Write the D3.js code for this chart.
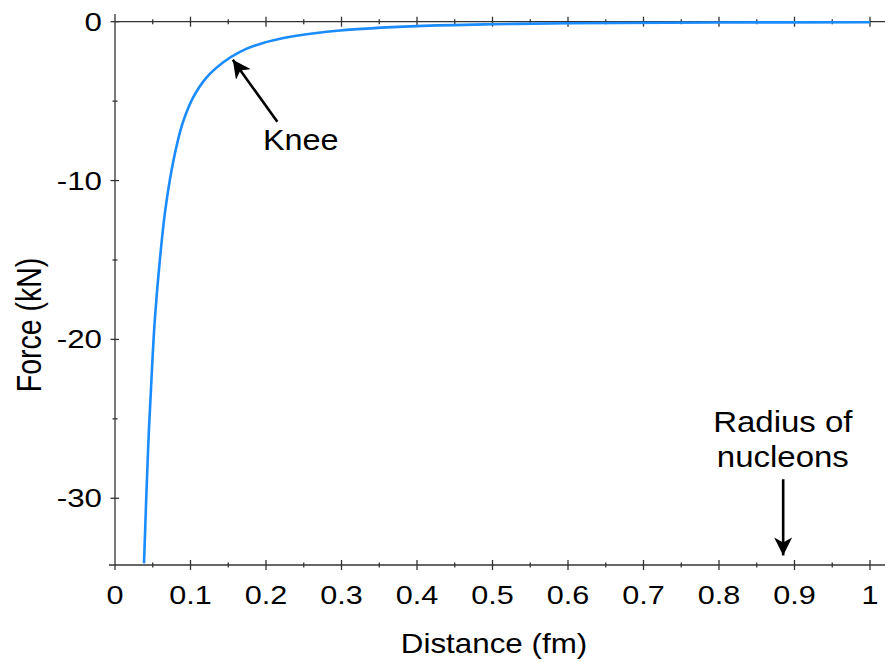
<!DOCTYPE html>
<html>
<head>
<meta charset="utf-8">
<script src="https://cdn.jsdelivr.net/npm/d3@7"></script>
<style>
  html, body { margin: 0; padding: 0; background: #fff; }
  text { font-family: 'Liberation Sans', Arial, sans-serif; fill: #000; }
</style>
</head>
<body>
<div id="chart"></div>
<script>
// values
const distance = [0.0384, 0.0441, 0.0499, 0.053, 0.0596, 0.0662, 0.0751, 0.0839, 0.0905,
  0.1037, 0.1214, 0.1435, 0.1656, 0.192, 0.236, 0.298, 0.4, 0.5, 0.6, 0.8, 1.0];
const force = [-34.1, -26.6, -21.0, -18.6, -14.9, -12.0, -9.3, -7.35, -6.25,
  -4.75, -3.5, -2.55, -1.9, -1.4, -0.92, -0.55, -0.28, -0.16, -0.1, -0.05, -0.03];

const xTicks = [0, 0.1, 0.2, 0.3, 0.4, 0.5, 0.6, 0.7, 0.8, 0.9, 1];
const xMinor = [0.05, 0.15, 0.25, 0.35, 0.45, 0.55, 0.65, 0.75, 0.85, 0.95];
const yTicks = [0, -10, -20, -30];
const yMinor = [-5, -15, -25];

// annotations, in data units
const knee = { tip: [0.156, -2.4], tail: [0.215, -6.3], label: [0.246, -8.1], text: 'Knee' };
const radius = { tip: [0.885, -33.6], tail: [0.885, -28.8], lines: ['Radius of', 'nucleons'], labelY: [-25.8, -28.0] };

const makePlot = () => {
  const width = 885;
  const height = 662;

  const svg = d3.select('#chart').append('svg')
    .attr('width', width)
    .attr('height', height)
    .style('display', 'block');

  svg.append('rect').attr('width', width).attr('height', height).attr('fill', '#fff');

  const x = d3.scaleLinear().domain([0, 1]).range([115, 870]);
  const y = d3.scaleLinear().domain([-34.2, 0]).range([565, 21.7]);

  const axisColor = '#333';
  const axes = svg.append('g').attr('stroke', axisColor).attr('stroke-width', 1.3);

  // bottom axis
  axes.append('line').attr('x1', 109).attr('x2', width).attr('y1', y(-34.2)).attr('y2', y(-34.2));
  // zero line along the top
  axes.append('line').attr('x1', x(0)).attr('x2', width).attr('y1', y(0)).attr('y2', y(0));
  // vertical axis
  axes.append('line').attr('x1', x(0)).attr('x2', x(0)).attr('y1', 14).attr('y2', 570);

  [y(-34.2), y(0)].forEach((yy) => {
    axes.selectAll(null).data(xTicks.slice(1)).enter().append('line')
      .attr('x1', (d) => x(d)).attr('x2', (d) => x(d))
      .attr('y1', yy - 5).attr('y2', yy + 5);
    axes.selectAll(null).data(xMinor).enter().append('line')
      .attr('x1', (d) => x(d)).attr('x2', (d) => x(d))
      .attr('y1', yy - 2.5).attr('y2', yy + 2.5);
  });

  axes.selectAll(null).data(yTicks).enter().append('line')
    .attr('x1', x(0) - 4.5).attr('x2', x(0) + 4)
    .attr('y1', (d) => y(d)).attr('y2', (d) => y(d));
  axes.selectAll(null).data(yMinor).enter().append('line')
    .attr('x1', x(0) - 2.5).attr('x2', x(0) + 2.5)
    .attr('y1', (d) => y(d)).attr('y2', (d) => y(d));

  // tick labels
  svg.selectAll(null).data(xTicks).enter().append('text')
    .attr('transform', (d) => `translate(${x(d)},604) scale(1.2,1)`)
    .attr('text-anchor', 'middle')
    .style('font-size', '25.5px')
    .text((d) => d3.format('')(d));

  svg.selectAll(null).data(yTicks).enter().append('text')
    .attr('transform', (d) => `translate(102,${y(d) + 9}) scale(1.25,1)`)
    .attr('text-anchor', 'end')
    .style('font-size', '25px')
    .text((d) => d);

  // axis titles
  svg.append('text')
    .attr('transform', 'translate(494,653) scale(1.12,1)')
    .attr('text-anchor', 'middle')
    .style('font-size', '28px')
    .text('Distance (fm)');

  svg.append('text')
    .attr('transform', 'translate(41,325) rotate(-90) scale(1,1.2)')
    .attr('text-anchor', 'middle')
    .style('font-size', '28.5px')
    .text('Force (kN)');

  // curve
  const line = d3.line()
    .x((d, i) => x(distance[i]))
    .y((d) => y(d))
    .curve(d3.curveCatmullRom.alpha(0.5));

  svg.append('path')
    .datum(force)
    .attr('d', line)
    .attr('fill', 'none')
    .attr('stroke', '#1a8cff')
    .attr('stroke-width', 2.6);

  // arrows
  const defs = svg.append('defs');
  defs.append('marker')
    .attr('id', 'head')
    .attr('viewBox', '0 0 18 18')
    .attr('refX', 18)
    .attr('refY', 9)
    .attr('markerWidth', 18)
    .attr('markerHeight', 18)
    .attr('markerUnits', 'userSpaceOnUse')
    .attr('orient', 'auto')
    .append('path')
    .attr('d', 'M0,0 L18,9 L0,18 L5,9 Z')
    .attr('fill', '#000');

  const arrows = svg.append('g').attr('stroke', '#000').attr('stroke-width', 2.6);
  [knee, radius].forEach((a) => {
    arrows.append('line')
      .attr('x1', x(a.tail[0])).attr('y1', y(a.tail[1]))
      .attr('x2', x(a.tip[0])).attr('y2', y(a.tip[1]))
      .attr('marker-end', 'url(#head)');
  });

  svg.append('text')
    .attr('transform', `translate(${x(knee.label[0])},${y(knee.label[1])}) scale(1.08,1)`)
    .attr('text-anchor', 'middle')
    .style('font-size', '30px')
    .text(knee.text);

  radius.lines.forEach((t, i) => {
    svg.append('text')
      .attr('transform', `translate(${x(0.8845)},${y(radius.labelY[i])}) scale(1.1,1)`)
      .attr('text-anchor', 'middle')
      .style('font-size', '30px')
      .text(t);
  });
};

makePlot();
</script>
</body>
</html>
